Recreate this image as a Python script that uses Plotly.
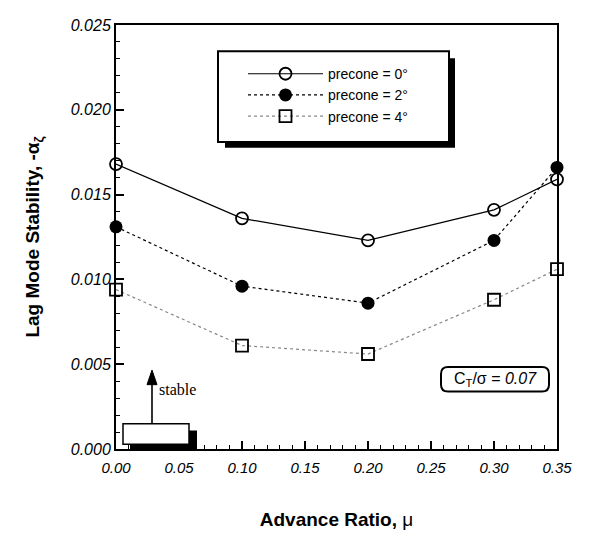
import plotly.graph_objects as go

mu = [0.0, 0.1, 0.2, 0.3, 0.35]
precone0 = [0.0168, 0.0136, 0.0123, 0.0141, 0.0159]
precone2 = [0.0131, 0.0096, 0.0086, 0.0123, 0.0166]
precone4 = [0.0094, 0.0061, 0.0056, 0.0088, 0.0106]
names = ["precone = 0°", "precone = 2°", "precone = 4°"]

FONT = "Liberation Sans, Arial, sans-serif"

fig = go.Figure()
fig.add_trace(go.Scatter(
    x=mu, y=precone0, name=names[0], mode="lines+markers",
    line=dict(color="black", width=1.2),
    marker=dict(symbol="circle-open", size=12, color="black", line=dict(width=1.8)),
    cliponaxis=False))
fig.add_trace(go.Scatter(
    x=mu, y=precone2, name=names[1], mode="lines+markers",
    line=dict(color="black", width=1.2, dash="3px,3px"),
    marker=dict(symbol="circle", size=13, color="black"),
    cliponaxis=False))
fig.add_trace(go.Scatter(
    x=mu, y=precone4, name=names[2], mode="lines+markers",
    line=dict(color="#888888", width=1.2, dash="dot"),
    marker=dict(symbol="square-open", size=12, color="black", line=dict(width=1.8)),
    cliponaxis=False))

# page pixel -> data coordinates (plot area: x 116..557, y 17..452)
def px_x(p):
    return (p - 116) / 1260.0

def px_y(p):
    return (452 - p) / 17400.0

shapes = []
# legend box with shadow
shapes.append(dict(type="rect", xref="x", yref="y", x0=px_x(225), x1=px_x(455), y0=px_y(143), y1=px_y(51),
                   fillcolor="black", line=dict(width=0), layer="below"))
shapes.append(dict(type="rect", xref="x", yref="y", x0=px_x(218), x1=px_x(449), y0=px_y(137), y1=px_y(44),
                   fillcolor="white", line=dict(color="black", width=2), layer="below"))
# stable arrow
shapes.append(dict(type="line", xref="x", yref="y", x0=px_x(152), x1=px_x(152), y0=px_y(426), y1=px_y(382),
                   line=dict(color="black", width=1.6), layer="above"))
shapes.append(dict(type="path", xref="x", yref="y",
                   path=f"M {px_x(152)},{px_y(371)} L {px_x(157)},{px_y(386)} L {px_x(147)},{px_y(386)} Z",
                   fillcolor="black", line=dict(color="black", width=1), layer="above"))
# small box bottom-left with shadow
shapes.append(dict(type="rect", xref="x", yref="y", x0=px_x(130), x1=px_x(197), y0=px_y(453), y1=px_y(433),
                   fillcolor="black", line=dict(width=0), layer="above"))
shapes.append(dict(type="rect", xref="x", yref="y", x0=px_x(123), x1=px_x(189), y0=px_y(447), y1=px_y(426),
                   fillcolor="white", line=dict(color="black", width=1.5), layer="above"))
# rounded box for CT/sigma
x0, x1, y0, y1 = 441, 549, 368, 393
r = 7
path = (f"M {px_x(x0 + r)},{px_y(y0)} L {px_x(x1 - r)},{px_y(y0)} "
        f"Q {px_x(x1)},{px_y(y0)} {px_x(x1)},{px_y(y0 + r)} "
        f"L {px_x(x1)},{px_y(y1 - r)} Q {px_x(x1)},{px_y(y1)} {px_x(x1 - r)},{px_y(y1)} "
        f"L {px_x(x0 + r)},{px_y(y1)} Q {px_x(x0)},{px_y(y1)} {px_x(x0)},{px_y(y1 - r)} "
        f"L {px_x(x0)},{px_y(y0 + r)} Q {px_x(x0)},{px_y(y0)} {px_x(x0 + r)},{px_y(y0)} Z")
shapes.append(dict(type="path", xref="x", yref="y", path=path, fillcolor="white",
                   line=dict(color="black", width=2), layer="above"))

annotations = [
    dict(x=px_x(157), y=px_y(391), xref="x", yref="y", text="stable", showarrow=False,
         xanchor="left", yanchor="middle",
         font=dict(family="Liberation Serif, Times New Roman, serif", size=16, color="black")),
    dict(x=px_x(495), y=px_y(381), xref="x", yref="y",
         text="C<sub>T</sub>/σ = <i>0.07</i>", showarrow=False,
         font=dict(family=FONT, size=16, color="black")),
]

# body has an 8px margin in the page, so the figure is 8px smaller and margins reduced
fig.update_layout(
    width=582, height=528,
    margin=dict(l=108, r=33, t=9, b=84),
    paper_bgcolor="white", plot_bgcolor="white",
    font=dict(family=FONT, color="black"),
    showlegend=True,
    legend=dict(x=px_x(243) / 0.35, y=(452 - 51) / 435.0, xanchor="left", yanchor="top",
                bgcolor="rgba(0,0,0,0)", borderwidth=0,
                font=dict(family=FONT, size=14, color="black"),
                tracegroupgap=5, itemwidth=75),
    shapes=shapes,
    annotations=annotations,
)

fig.update_xaxes(
    range=[0, 0.35], dtick=0.05, tickformat=".2f",
    showgrid=False, zeroline=False,
    showline=True, linecolor="black", linewidth=2, mirror=True,
    ticks="inside", ticklen=8, tickwidth=1.5, tickcolor="black",
    minor=dict(dtick=0.01, ticks="inside", ticklen=4, tickwidth=1.2, tickcolor="black"),
    tickfont=dict(family=FONT, size=15, style="italic", color="black"),
    ticklabelstandoff=4,
    title=dict(text="<b>Advance Ratio,</b> μ", font=dict(family=FONT, size=19, color="black"), standoff=38),
)
fig.update_yaxes(
    range=[0, 0.025], dtick=0.005, tickformat=".3f",
    showgrid=False, zeroline=False,
    showline=True, linecolor="black", linewidth=2, mirror=True,
    ticks="inside", ticklen=8, tickwidth=1.5, tickcolor="black",
    minor=dict(dtick=0.001, ticks="inside", ticklen=4, tickwidth=1.2, tickcolor="black"),
    tickfont=dict(family=FONT, size=16, style="italic", color="black"),
    title=dict(text="<b>Lag Mode Stability, -α<sub>ζ</sub></b>", font=dict(family=FONT, size=19, color="black"), standoff=26),
)

fig.write_html("out.html")
